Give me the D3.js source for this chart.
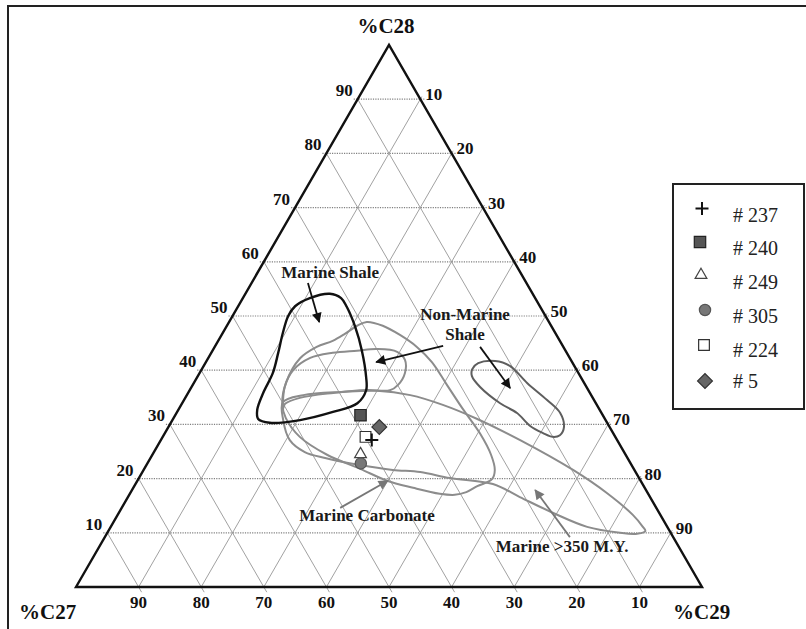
<!DOCTYPE html>
<html><head><meta charset="utf-8">
<script src="https://cdn.jsdelivr.net/npm/d3@7"></script>
<style>body{margin:0;background:#fff}</style>
</head><body>
<svg id="chart" width="806" height="629"></svg>
<script>
// ---------------- DATA ----------------
const tickValues = [10, 20, 30, 40, 50, 60, 70, 80, 90];
const axisTitles = ["%C27", "%C28", "%C29"];

// samples: [C27, C28, C29]
const sampleNames = ["# 237", "# 240", "# 249", "# 305", "# 224", "# 5"];
const sampleC27 = [39.2, 38.7, 42.3, 43.1, 39.9, 36.8];
const sampleC28 = [27.1, 31.7, 24.5, 22.8, 27.7, 29.5];
const sampleC29 = [33.7, 29.6, 33.2, 34.1, 32.4, 33.7];

// field outlines as [C27, C28, C29]
const marineShale = [[32.4,54.1,13.5],[31.0,53.3,15.7],[30.9,51.7,17.4],[31.4,48.0,20.6],[32.5,43.7,23.8],[34.3,38.7,27.0],[35.5,36.3,28.2],[38.1,33.9,28.0],[42.8,32.3,24.9],[48.8,30.8,20.4],[53.9,30.3,15.8],[55.4,31.0,13.6],[54.7,32.7,12.6],[52.2,35.8,12.0],[48.8,39.5,11.7],[46.1,43.2,10.7],[43.5,46.9,9.6],[41.1,50.0,8.9],[39.1,51.8,9.1],[36.0,53.3,10.7]];
const nonMarineShale = [[50.4,33.0,16.6],[48.2,36.9,14.9],[45.3,40.0,14.7],[41.5,42.3,16.3],[37.4,43.2,19.4],[33.3,43.6,23.1],[30.0,43.9,26.1],[27.0,43.4,29.6],[26.5,41.9,31.6],[27.7,39.5,32.8],[29.9,37.3,32.8],[31.7,36.3,32.0],[35.3,36.3,28.3],[41.0,35.8,23.2],[46.8,34.9,18.3],[49.7,33.8,16.5]];
const nonMarineShale2 = [[16.6,40.2,43.2],[15.1,41.3,43.6],[12.2,41.7,46.1],[10.3,40.8,48.9],[9.1,37.6,53.3],[7.5,34.5,58.0],[6.6,32.1,61.3],[7.3,29.5,63.2],[8.7,28.0,63.3],[10.0,27.7,62.3],[11.2,28.4,60.4],[12.6,29.7,57.7],[13.5,32.1,54.4],[15.3,33.9,50.8],[17.0,36.9,46.1],[17.3,38.9,43.8]];
const marineCarbonate = [[29.1,48.9,22.0],[26.9,48.2,24.9],[25.0,46.5,28.5],[23.4,44.3,32.3],[22.4,41.5,36.1],[22.1,37.3,40.6],[21.8,33.0,45.2],[21.3,28.4,50.3],[21.5,24.4,54.1],[22.3,21.6,56.1],[23.6,19.9,56.5],[26.6,18.6,54.8],[28.9,17.5,53.6],[31.0,17.0,52.0],[33.3,17.2,49.5],[37.0,18.3,44.7],[40.5,19.6,39.9],[43.7,21.8,34.5],[47.7,24.4,27.9],[50.4,27.7,21.9],[50.9,31.2,17.9],[50.1,33.9,16.0],[47.6,37.7,14.7],[43.1,42.2,14.7],[39.4,44.3,16.3],[36.3,45.4,18.3],[33.7,46.7,19.6],[31.0,48.2,20.8]];
const marineOld = [[49.9,34.1,16.0],[46.0,35.4,18.6],[39.4,36.0,24.6],[33.8,36.2,30.0],[28.9,35.4,35.7],[24.6,33.6,41.8],[20.4,31.0,48.6],[15.5,27.1,57.4],[9.8,21.6,68.6],[6.5,17.3,76.2],[4.4,13.3,82.3],[3.9,11.1,85.0],[3.9,10.3,85.8],[5.7,9.8,84.5],[8.1,10.0,81.9],[12.8,11.1,76.1],[17.0,13.7,69.3],[20.8,16.6,62.6],[23.9,19.0,57.1],[30.2,20.1,49.7],[34.4,21.2,44.4],[38.6,21.6,39.8],[43.4,22.5,34.1],[48.3,23.8,27.9],[51.0,24.9,24.1],[52.3,27.1,20.6],[51.5,30.8,17.7]];

// annotations: label lines, label anchor [C27,C28,C29], arrow from/to
const annoLabels = [["Marine Shale"], ["Non-Marine", "Shale"], ["Marine Carbonate"], ["Marine >350 M.Y."]];
const annoAnchors = [[30.9,57.0,12.1],[13.2,49.3,37.5],[47.4,12.2,40.4],[19.1,6.5,74.4]];
const arrowFrom = [[34.9,56.1,9.0],[19.1,44.5,36.4],[13.3,44.3,42.4],[50.5,14.6,34.9],[16.5,9.2,74.3]];
const arrowTo   = [[36.7,48.9,14.4],[31.3,41.5,27.2],[12.3,36.7,51.0],[40.4,19.6,40.0],[17.7,17.9,64.4]];

// ---------------- LAYOUT ----------------
const svg = d3.select("#chart");
const X0 = 76, X1 = 702, YB = 587, YT = 45;
const xS = d3.scaleLinear().domain([0, 100]).range([X0, X1]);
const yS = d3.scaleLinear().domain([0, 100]).range([YB, YT]);
function proj(p) {
  const s = p[0] + p[1] + p[2];
  const c28 = p[1] * 100 / s, c29 = p[2] * 100 / s;
  return [xS(c29 + c28 / 2), yS(c28)];
}
const serif = "'Liberation Serif','Times New Roman',serif";

// frame
svg.append("rect").attr("x", 8).attr("y", 6).attr("width", 810).attr("height", 640)
  .attr("fill", "none").attr("stroke", "#222").attr("stroke-width", 2);

const grid = svg.append("g");
function ext(a, b, e0, e1) {
  const dx = b[0] - a[0], dy = b[1] - a[1], L = Math.hypot(dx, dy);
  const ux = dx / L, uy = dy / L;
  return [[a[0] - ux * e0, a[1] - uy * e0], [b[0] + ux * e1, b[1] + uy * e1]];
}
// horizontal (C28 constant) dotted
tickValues.forEach(v => {
  const a = proj([100 - v, v, 0]), b = proj([0, v, 100 - v]);
  const [p, q] = ext(a, b, 4, 4);
  grid.append("line").attr("x1", p[0]).attr("y1", p[1]).attr("x2", q[0]).attr("y2", q[1])
    .attr("stroke", "#808080").attr("stroke-width", 1.2).attr("stroke-dasharray", "1.2,1.2");
});
// C27 constant: from left edge to base
tickValues.forEach(v => {
  const a = proj([v, 100 - v, 0]), b = proj([v, 0, 100 - v]);
  const [p, q] = ext(a, b, 0, 6);
  grid.append("line").attr("x1", p[0]).attr("y1", p[1]).attr("x2", q[0]).attr("y2", q[1])
    .attr("stroke", "#969696").attr("stroke-width", 0.9);
});
// C29 constant: from base to right edge
tickValues.forEach(v => {
  const a = proj([100 - v, 0, v]), b = proj([0, 100 - v, v]);
  const [p, q] = ext(a, b, 0, 3);
  grid.append("line").attr("x1", p[0]).attr("y1", p[1]).attr("x2", q[0]).attr("y2", q[1])
    .attr("stroke", "#969696").attr("stroke-width", 0.9);
});

// triangle
const tri = [proj([100,0,0]), proj([0,100,0]), proj([0,0,100])];
svg.append("path").attr("d", "M" + tri.map(d => d.join(",")).join("L") + "Z")
  .attr("fill", "none").attr("stroke", "#111").attr("stroke-width", 2.4).attr("stroke-linejoin", "miter");

// tick labels
const tl = svg.append("g").attr("font-family", serif).attr("font-weight", "bold").attr("font-size", 17).attr("fill", "#111");
tickValues.forEach(v => {
  const l = proj([100 - v, v, 0]);
  tl.append("text").attr("x", l[0] - 5).attr("y", l[1] - 3).attr("text-anchor", "end").text(v);
  const r = proj([0, 100 - v, v]);
  tl.append("text").attr("x", r[0] + 5).attr("y", r[1] + 1).attr("text-anchor", "start").text(v);
  const b = proj([v, 0, 100 - v]);
  tl.append("text").attr("x", b[0]).attr("y", b[1] + 21).attr("text-anchor", "middle").text(v);
});

// axis titles
const at = svg.append("g").attr("font-family", serif).attr("font-weight", "bold").attr("font-size", 21).attr("fill", "#111");
at.append("text").attr("x", tri[0][0] - 57).attr("y", 619).text(axisTitles[0]);
at.append("text").attr("x", tri[1][0] - 3).attr("y", 33).attr("text-anchor", "middle").text(axisTitles[1]);
at.append("text").attr("x", tri[2][0] - 29).attr("y", 619).text(axisTitles[2]);

// fields
const lineGen = d3.line().curve(d3.curveCatmullRomClosed.alpha(0.5));
const fields = [
  [marineCarbonate, "#8c8c8c", 2],
  [marineOld, "#8c8c8c", 2],
  [nonMarineShale, "#8c8c8c", 2],
  [nonMarineShale2, "#5e5e5e", 2],
  [marineShale, "#111", 2.4]
];
fields.forEach(([pts, col, w]) => {
  svg.append("path").attr("d", lineGen(pts.map(proj))).attr("fill", "none")
    .attr("stroke", col).attr("stroke-width", w);
});

// arrows
const defs = svg.append("defs");
[["ahB", "#111"], ["ahG", "#777"]].forEach(([id, c]) => {
  defs.append("marker").attr("id", id).attr("viewBox", "0 0 10 10").attr("refX", 9).attr("refY", 5)
    .attr("markerWidth", 12).attr("markerHeight", 10).attr("markerUnits", "userSpaceOnUse").attr("orient", "auto")
    .append("path").attr("d", "M0,0L10,5L0,10Z").attr("fill", c);
});
const arrowColor = ["#111", "#111", "#111", "#777", "#777"];
arrowFrom.forEach((f, i) => {
  const a = proj(f), b = proj(arrowTo[i]);
  svg.append("line").attr("x1", a[0]).attr("y1", a[1]).attr("x2", b[0]).attr("y2", b[1])
    .attr("stroke", arrowColor[i]).attr("stroke-width", 1.8)
    .attr("marker-end", arrowColor[i] === "#111" ? "url(#ahB)" : "url(#ahG)");
});

// annotation labels
const al = svg.append("g").attr("font-family", serif).attr("font-weight", "bold").attr("font-size", 17).attr("fill", "#1a1a1a");
annoLabels.forEach((lines, i) => {
  const p = proj(annoAnchors[i]);
  lines.forEach((t, j) => {
    al.append("text").attr("x", p[0]).attr("y", p[1] + j * 20).attr("text-anchor", "middle").text(t);
  });
});

// symbols
const symFill = ["none", "#555", "#fff", "#777", "#fff", "#666"];
const symStroke = ["#111", "#222", "#444", "#555", "#333", "#333"];
function drawSym(g, i, x, y) {
  if (i === 0) {
    g.append("path").attr("d", `M${x-6.5},${y}H${x+6.5}M${x},${y-6.5}V${y+6.5}`)
      .attr("stroke", "#111").attr("stroke-width", 2);
    return;
  }
  const types = [null, d3.symbolSquare, d3.symbolTriangle, d3.symbolCircle, d3.symbolSquare, d3.symbolSquare];
  const sizes = [0, 130, 60, 100, 115, 110];
  const rot = i === 5 ? 45 : 0;
  g.append("path").attr("d", d3.symbol().type(types[i]).size(sizes[i])())
    .attr("transform", `translate(${x},${y}) rotate(${rot})`)
    .attr("fill", symFill[i]).attr("stroke", symStroke[i]).attr("stroke-width", 1.2);
}
const pts = svg.append("g");
const order = [1, 2, 3, 4, 5, 0];
order.forEach(i => {
  const p = proj([sampleC27[i], sampleC28[i], sampleC29[i]]);
  drawSym(pts, i, p[0], p[1]);
});

// legend
const lg = svg.append("g");
lg.append("rect").attr("x", 673).attr("y", 184).attr("width", 131).attr("height", 225)
  .attr("fill", "#fff").attr("stroke", "#222").attr("stroke-width", 2);
const symX = [702, 700, 701, 705, 704, 705];
const symY = [208.5, 242, 275, 310, 345, 381];
const txtY = [221.5, 255, 288.5, 323, 357, 388];
sampleNames.forEach((n, i) => {
  drawSym(lg, i, symX[i], symY[i]);
  lg.append("text").attr("x", 733).attr("y", txtY[i]).attr("font-family", serif)
    .attr("font-size", 20).attr("fill", "#222").text(n);
});
</script>
</body></html>
